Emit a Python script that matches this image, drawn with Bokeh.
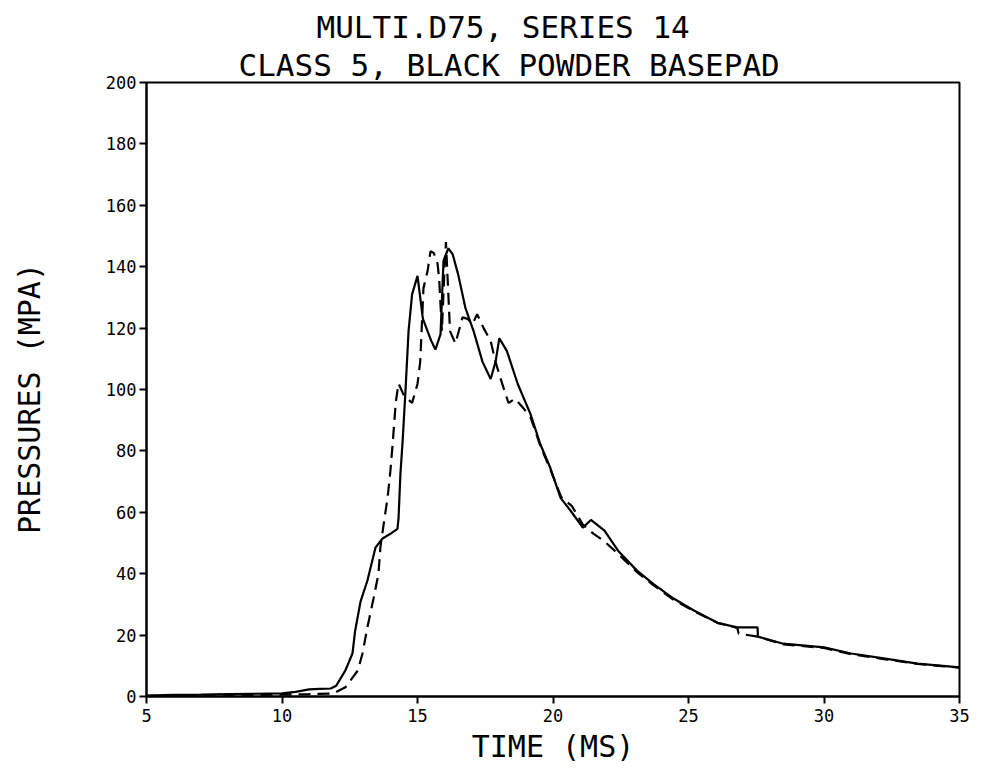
from bokeh.plotting import figure
from bokeh.models import Title, FixedTicker, ColumnDataSource
from bokeh.embed import file_html
from bokeh.resources import INLINE

# Solid trace (time in ms, pressure in MPa)
t_solid = [5, 6, 7, 8, 9, 10, 10.5, 11, 11.4, 11.8, 12.0, 12.34, 12.6, 12.7, 12.9,
           13.15, 13.45, 13.7, 14.0, 14.26, 14.3, 14.37, 14.45, 14.55, 14.67, 14.8,
           15.0, 15.2, 15.5, 15.66, 15.85, 15.96, 16.14, 16.3, 16.5, 16.77, 17.07,
           17.4, 17.7, 17.88, 18.02, 18.3, 18.7, 19.17, 19.54, 19.9, 20.28, 20.65,
           21.1, 21.4, 21.9, 22.4, 23.1, 23.7, 24.45, 25.2, 26.07, 26.8, 27.55,
           27.56, 28.5, 30, 31, 32.2, 33.45, 35]
p_solid = [0.3, 0.5, 0.6, 0.8, 0.9, 1.0, 1.5, 2.3, 2.5, 2.6, 3.5, 8.5, 14, 21.5, 31,
           37.7, 48.5, 51.4, 53, 54.6, 58, 72.5, 83, 98.5, 119, 131,
           137, 123, 116, 113, 118, 142, 146, 144, 137.5, 126.5, 119,
           109, 103.4, 109, 116.7, 112.5, 101.8, 92, 82, 74.5, 64.7, 60.5,
           55, 57.5, 54, 47.5, 41, 36.7, 31.9, 28, 24, 22.5, 22.5,
           19.5, 17.2, 16, 14, 12.4, 10.7, 9.5]

# Dashed trace
t_dash = [5, 7, 9, 10, 11, 11.9, 12.34, 12.8, 12.97, 13.15, 13.38, 13.56, 13.63,
          13.75, 13.9, 14.0, 14.08, 14.2, 14.3, 14.5, 14.8, 15.0, 15.1, 15.22,
          15.37, 15.48, 15.6, 15.74, 15.8, 15.9, 16.0, 16.05, 16.2, 16.4, 16.66,
          16.85, 17.03, 17.2, 17.44, 17.7, 17.88, 18.06, 18.25, 18.36, 18.6, 18.9,
          19.17, 19.54, 19.9, 20.3, 20.7, 21.1, 21.5, 21.9, 22.4, 23.1, 23.7,
          24.45, 25.2, 26.07, 26.8, 26.85, 27.55, 28.5, 30, 31, 32.2, 33.45, 35]
p_dash = [0.2, 0.4, 0.5, 0.6, 0.8, 1, 3, 8.5, 14, 22.5, 32, 40, 48.5,
          56, 65, 73.5, 82, 96, 102, 98, 95.6, 101.8, 109, 133,
          138.5, 145, 144.5, 141, 136, 119, 140, 148, 119, 115, 123.5,
          123, 121.3, 124.5, 120, 115.8, 109, 103.7, 98.5, 95.6, 97, 94,
          91, 81.5, 74, 65, 62, 56, 53, 50.5, 46.5, 40.5, 36.3,
          31.5, 27.8, 24, 22.3, 20.5, 19.5, 17, 15.8, 13.8, 12.2, 10.6, 9.4]

x_ticks = [5, 10, 15, 20, 25, 30, 35]
y_ticks = [0, 20, 40, 60, 80, 100, 120, 140, 160, 180, 200]

title_1 = "MULTI.D75, SERIES 14"
title_2 = "CLASS 5, BLACK POWDER BASEPAD"
x_label = "TIME (MS)"
y_label = "PRESSURES  (MPA)"

FONT = "DejaVu Sans Mono"
BIG = "30px"
TBIG = "31px"

p = figure(frame_width=813, frame_height=614, x_range=(5, 35), y_range=(0, 200),
           output_backend="svg", toolbar_location=None,
           min_border_left=146, min_border_right=33, min_border_top=82,
           min_border_bottom=56)

p.title.text = title_1
p.title.align = "left"
p.title.offset = 170
p.title.text_font = FONT
p.title.text_font_size = TBIG
p.title.text_font_style = "normal"
p.title.text_color = "black"
p.title.standoff = 0
p.add_layout(Title(text=title_2, align="left", offset=92, text_font=FONT,
                   text_font_size=TBIG, text_font_style="normal",
                   text_color="black", standoff=0), "above")

src_s = ColumnDataSource(dict(x=t_solid, y=p_solid))
src_d = ColumnDataSource(dict(x=t_dash, y=p_dash))
p.line("x", "y", source=src_s, line_color="black", line_width=2.2)
p.line("x", "y", source=src_d, line_color="black", line_width=2.2, line_dash="12 7")

p.xgrid.visible = False
p.ygrid.visible = False
p.outline_line_color = "black"
p.outline_line_width = 2

for ax in (p.xaxis[0], p.yaxis[0]):
    ax.axis_line_width = 2
    ax.axis_line_color = "black"
    ax.major_tick_line_width = 2
    ax.major_tick_line_color = "black"
    ax.major_tick_in = 0
    ax.major_tick_out = 7
    ax.minor_tick_line_color = None
    ax.major_label_text_font = FONT
    ax.major_label_text_font_size = "17px"
    ax.major_label_text_color = "black"
    ax.axis_label_text_font = FONT
    ax.axis_label_text_font_size = BIG
    ax.axis_label_text_font_style = "normal"
    ax.axis_label_text_color = "black"

p.xaxis[0].ticker = FixedTicker(ticks=x_ticks)
p.yaxis[0].ticker = FixedTicker(ticks=y_ticks)
p.xaxis[0].axis_label = x_label
p.yaxis[0].axis_label = y_label
p.xaxis[0].major_label_standoff = 5
p.xaxis[0].axis_label_standoff = 4
p.yaxis[0].major_label_standoff = 3
p.yaxis[0].axis_label_standoff = 56
p.yaxis[0].major_label_orientation = "horizontal"

open("out.html", "w").write(file_html(p, INLINE))
